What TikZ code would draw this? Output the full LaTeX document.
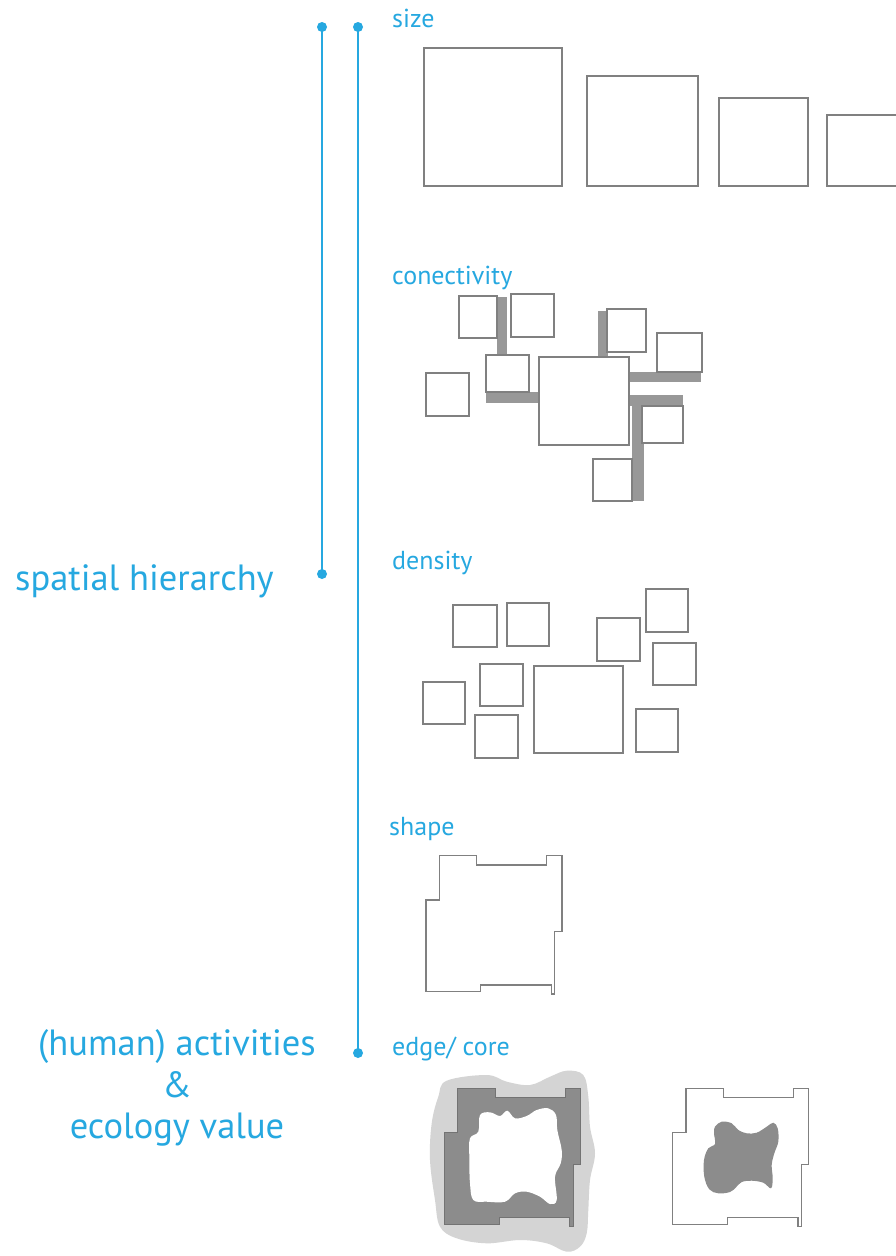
\documentclass[tikz,border=0pt]{standalone}
\usepackage{fontspec}
\setmainfont{PT Sans}
\definecolor{hblue}{RGB}{38,168,224}
\definecolor{boxline}{RGB}{128,128,128}
\definecolor{barfill}{RGB}{152,152,152}
\definecolor{edgefill}{RGB}{140,140,140}
\definecolor{halo}{RGB}{212,212,212}

\begin{document}
\begin{tikzpicture}[x=1pt,y=-1pt,
  axis/.style={hblue, line width=1.8pt},
  knob/.style={circle, fill=hblue, inner sep=0pt, minimum size=10pt},
  cat/.style={text=hblue, font=\fontsize{26}{30}\selectfont, anchor=base west, inner sep=0pt},
  theme/.style={text=hblue, font=\fontsize{36.5}{44}\selectfont, inner sep=0pt},
  box/.style={draw=boxline, line width=1.4pt, fill=white},
  bar/.style={fill=barfill},
  outline/.style={draw=boxline, line width=1.3pt},
  block/.pic={
    \path[pic actions] (13.3,0) -- (50.7,0) -- (50.7,9.3) -- (120.7,9.3) -- (120.7,0)
      -- (136,0) -- (136,76) -- (128.7,76) -- (128.7,138.3) -- (125.3,138.3)
      -- (125.3,129.3) -- (54.7,129.3) -- (54.7,136) -- (0,136) -- (0,44.3)
      -- (13.3,44.3) -- cycle;
  }
]
\useasboundingbox[fill=white] (0,0) rectangle (895,1256);

% two vertical guide lines with end knobs
\node[knob] (lefttop) at (322,27) {};
\node[knob] (leftbot) at (322,574) {};
\node[knob] (righttop) at (358,27) {};
\node[knob] (rightbot) at (358,1053) {};
\draw[axis] (lefttop.center) -- (leftbot.center);
\draw[axis] (righttop.center) -- (rightbot.center);

% themes on the left
\node[theme, anchor=base west] (spatial) at (15,590) {spatial hierarchy};
\node[theme, anchor=base] (human) at (177,1055) {(human) activities};
\node[theme, anchor=base] (amp) at (177,1097) {\&};
\node[theme, anchor=base] (ecology) at (177,1138) {ecology value};

% category labels
\node[cat] (size) at (392,27) {size};
\node[cat] (conect) at (392,284) {conectivity};
\node[cat] (density) at (392,569) {density};
\node[cat] (shape) at (389,835) {shape};
\node[cat] (edgecore) at (392,1055) {edge/ core};

% size
\draw[box] (424,48) rectangle (562,186);
\draw[box] (587,76) rectangle (698,186);
\draw[box] (719,98) rectangle (808,186);
\draw[box] (827,115) rectangle (900,186);

% connectivity: links first, plots on top
\fill[bar] (497,297) rectangle (507,357);
\fill[bar] (486,392) rectangle (539,403);
\fill[bar] (598,311) rectangle (608,357);
\fill[bar] (629,372) rectangle (701,382);
\fill[bar] (629,395) rectangle (683,406);
\fill[bar] (632,406) rectangle (644,501);
\draw[box] (459,296) rectangle (497,338);
\draw[box] (511,294) rectangle (554,337);
\draw[box] (426,373) rectangle (469,416);
\draw[box] (486,355) rectangle (529,392);
\draw[box] (539,357) rectangle (629,445);
\draw[box] (607,309) rectangle (646,352);
\draw[box] (657,333) rectangle (702,372);
\draw[box] (642,406) rectangle (683,443);
\draw[box] (593,459) rectangle (632,501);

% density
\draw[box] (453,605) rectangle (497,647);
\draw[box] (507,603) rectangle (549,646);
\draw[box] (597,618) rectangle (640,661);
\draw[box] (646,589) rectangle (688,632);
\draw[box] (653,643) rectangle (696,685);
\draw[box] (480,664) rectangle (523,706);
\draw[box] (534,666) rectangle (623,753);
\draw[box] (423,682) rectangle (465,724);
\draw[box] (475,715) rectangle (518,758);
\draw[box] (636,709) rectangle (678,752);

% shape
\pic[outline, fill=white] at (426,855.7) {block};

% edge / core: buffered block with open core
\fill[halo] plot[smooth cycle, tension=0.6] coordinates {
  (446.7,1080.7) (486.7,1075) (506.7,1081.7) (530,1085) (550,1076.7)
  (566.7,1070.7) (583.3,1075) (588.3,1096.7) (590,1126.7) (595,1153.3)
  (590,1180) (588.3,1210) (586.7,1233.3) (580,1246.7) (566.7,1251.7)
  (546.7,1243.3) (520,1240) (486.7,1243.3) (456.7,1238.3) (440,1226.7)
  (435,1200) (430,1160) (431.7,1123.3) (438.3,1096.7)};
\pic[draw=black!55, line width=1pt, fill=edgefill] at (444.3,1088.3) {block};
\fill[white] plot[smooth cycle, tension=0.6] coordinates {
  (480,1115) (490,1112.3) (500,1116) (507.3,1110.7) (515,1118.3)
  (526.7,1116) (536.7,1110) (548.3,1108.3) (556,1115) (557.3,1130)
  (561.7,1150) (560.7,1163.3) (555,1176.7) (556.7,1200) (550,1204)
  (540,1196.7) (526.7,1191.7) (515,1193.3) (505,1201.7) (486.7,1201.7)
  (473.3,1200) (470,1183.3) (469.3,1156.7) (470,1138.3) (478.3,1131.7)};

% edge / core: block with a dense core
\pic[outline, fill=white] at (672.7,1088.3) {block};
\fill[edgefill] plot[smooth cycle, tension=0.6] coordinates {
  (715,1126.7) (721.7,1121.7) (731.7,1123.3) (738.3,1130) (746.7,1133.3)
  (756.7,1132.7) (766.7,1126.7) (773.3,1122.7) (777.7,1128.3) (778.3,1141.7)
  (774.3,1153.3) (771.7,1165) (772.7,1178.3) (771,1188.3) (763.3,1182.7)
  (751.7,1180.7) (741.7,1182) (736,1187.3) (730,1192) (718.3,1193.3)
  (709.3,1189.3) (704.3,1176.7) (704,1160) (708.3,1148.3) (715,1144)
  (714,1133.3)};
\end{tikzpicture}
\end{document}
